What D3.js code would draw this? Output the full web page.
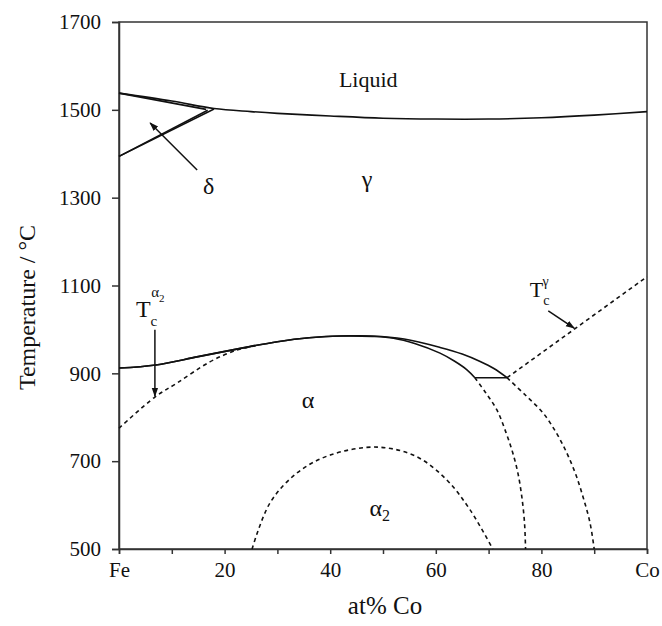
<!DOCTYPE html>
<html>
<head>
<meta charset="utf-8">
<script src="https://cdn.jsdelivr.net/npm/d3@7"></script>
<style>
  body { margin: 0; background: #fff; }
  svg text { font-family: "Liberation Serif", "Times New Roman", serif; fill: #111; }
</style>
</head>
<body>
<div id="chart"></div>
<script>
var
  margin = { top: 22, right: 15, bottom: 77, left: 119 },
  width = 662 - margin.left - margin.right,
  height = 626 - margin.top - margin.bottom;

// phase boundaries, [at% Co, temperature]
var liquidus = [[0,1538],[10,1520],[18,1503],[25,1496],[30,1492],[40,1486],[50,1481],[60,1479],[70,1479],[80,1482],[90,1488],[100,1496]];
var deltaSolidus = [[0,1538],[16.5,1501]];
var deltaBoundary = [[0,1394],[16.8,1499]];
var gammaDelta = [[0,1394],[18,1502]];
var gammaAlpha = [[0,912],[7,919],[15,938],[23.5,958],[30,972],[36,981],[42,985],[48,985],[54,978],[60.8,959],[65,944],[68.4,927],[71,911],[73.5,890]];
var alphaGamma = [[0,912],[7,919],[15,938],[23.5,958],[30,972],[36,981],[42,985],[48,984],[52,980],[56,968],[60.8,946],[63.5,928],[65.9,908],[67.4,890]];
var eutectoid = [[67.4,890],[73.5,890]];
var curieAlpha2 = [[0,775],[6.8,846],[11,878],[17.2,926],[22.3,953],[26,963]];
var curieGamma = [[73.5,890],[100,1120]];
var solvusLeft = [[67.4,890],[69.5,855],[71.6,816],[73.3,765],[74.6,718],[75.6,670],[76.3,618],[76.8,560],[77,500]];
var solvusRight = [[73.5,890],[77,850],[80.3,810],[82.8,765],[84.8,719],[86.5,670],[87.9,618],[89.2,560],[90,500]];
var orderDome = [[25.2,500],[28.6,605],[33.7,673],[40,714],[49,732],[56.4,710],[62.1,657],[66.5,589],[70.8,500]];

var xTicks = [0,10,20,30,40,50,60,70,80,90,100];
var xTickLabels = {0: 'Fe', 20: '20', 40: '40', 60: '60', 80: '80', 100: 'Co'};
var yTicks = [500,700,900,1100,1300,1500,1700];

// arrows: [from, to]
var arrows = [
  [[14.8,1363],[5.9,1470]],
  [[6.8,999],[6.8,848]],
  [[81.3,1042],[86.2,1003]]
];

var svg = d3.select('#chart').append('svg')
  .attr('width', 662)
  .attr('height', 626);

var defs = svg.append('defs');
defs.append('marker')
  .attr('id', 'head')
  .attr('viewBox', '0 0 10 10')
  .attr('refX', 9).attr('refY', 5)
  .attr('markerWidth', 9).attr('markerHeight', 9)
  .attr('markerUnits', 'userSpaceOnUse')
  .attr('orient', 'auto')
  .append('path')
    .attr('d', 'M0,1.5L10,5L0,8.5Z')
    .attr('fill', '#111');

var g = svg.append('g').attr('transform', 'translate(' + margin.left + ',' + margin.top + ')');

var x = d3.scaleLinear().domain([0, 100]).range([0, width]),
    y = d3.scaleLinear().domain([500, 1700]).range([height, 0]);

// frame
g.append('rect')
  .attr('width', width).attr('height', height)
  .attr('fill', 'none').attr('stroke', '#333').attr('stroke-width', 1.5);

var xAxis = g.append('g').attr('transform', 'translate(0,' + height + ')')
  .call(d3.axisBottom(x).tickValues(xTicks).tickSize(5).tickPadding(8)
    .tickFormat(function(d) { return xTickLabels[d] || ''; }));
var yAxis = g.append('g')
  .call(d3.axisLeft(y).tickValues(yTicks).tickSize(7).tickPadding(11).tickFormat(d3.format('d')));

[xAxis, yAxis].forEach(function(a) {
  a.select('.domain').attr('stroke', '#333').attr('stroke-width', 1.5);
  a.selectAll('.tick line').attr('stroke', '#333').attr('stroke-width', 1.5);
  a.selectAll('.tick text').attr('font-family', '"Liberation Serif", serif').attr('font-size', 21).attr('fill', '#111');
});

svg.append('text')
  .attr('x', margin.left + width / 2 + 2).attr('y', 614)
  .attr('text-anchor', 'middle').attr('font-size', 25)
  .text('at% Co');

svg.append('text')
  .attr('transform', 'translate(35,' + (margin.top + height / 2 + 22) + ') rotate(-90)')
  .attr('text-anchor', 'middle').attr('font-size', 24)
  .text('Temperature / \u00B0C');

var line = d3.line()
  .x(function(d) { return x(d[0]); })
  .y(function(d) { return y(d[1]); })
  .curve(d3.curveCatmullRom);

var solid = [liquidus, deltaSolidus, deltaBoundary, gammaDelta, gammaAlpha, alphaGamma, eutectoid];
var dashed = [curieAlpha2, curieGamma, solvusLeft, solvusRight, orderDome];

g.selectAll('path.solid')
  .data(solid)
  .enter().append('path')
    .attr('class', 'solid')
    .attr('d', line)
    .attr('fill', 'none')
    .attr('stroke', '#111')
    .attr('stroke-width', 1.6);

g.selectAll('path.dashed')
  .data(dashed)
  .enter().append('path')
    .attr('class', 'dashed')
    .attr('d', line)
    .attr('fill', 'none')
    .attr('stroke', '#111')
    .attr('stroke-width', 1.6)
    .attr('stroke-dasharray', '4,3.5');

g.selectAll('line.arrow')
  .data(arrows)
  .enter().append('line')
    .attr('class', 'arrow')
    .attr('x1', function(d) { return x(d[0][0]); })
    .attr('y1', function(d) { return y(d[0][1]); })
    .attr('x2', function(d) { return x(d[1][0]); })
    .attr('y2', function(d) { return y(d[1][1]); })
    .attr('stroke', '#111')
    .attr('stroke-width', 1.5)
    .attr('marker-end', 'url(#head)');

// phase labels
var labels = g.append('g').attr('font-size', 24).attr('text-anchor', 'middle');
labels.append('text').attr('x', x(47.2)).attr('y', y(1552)).attr('font-size', 22).text('Liquid');
labels.append('text').attr('x', x(47)).attr('y', y(1324)).text('\u03B3');
labels.append('text').attr('x', x(17)).attr('y', y(1308)).text('\u03B4');
labels.append('text').attr('x', x(35.8)).attr('y', y(821)).text('\u03B1');
var a2 = labels.append('text').attr('x', x(49.4)).attr('y', y(575));
a2.append('tspan').text('\u03B1');
a2.append('tspan').attr('font-size', 16).attr('dy', 5).text('2');

var tc1 = g.append('text').attr('x', x(3.2)).attr('y', y(1028)).attr('font-size', 24);
tc1.append('tspan').text('T');
tc1.append('tspan').attr('font-size', 15).attr('dy', 9).text('c');
tc1.append('tspan').attr('font-size', 15).attr('dx', -6).attr('dy', -29).text('\u03B1');
tc1.append('tspan').attr('font-size', 11).attr('dy', 5).text('2');

var tc2 = g.append('text').attr('x', x(77.8)).attr('y', y(1074)).attr('font-size', 22);
tc2.append('tspan').text('T');
tc2.append('tspan').attr('font-size', 14).attr('dy', 8).text('c');
tc2.append('tspan').attr('font-size', 14).attr('dx', -7).attr('dy', -19).text('\u03B3');
</script>
</body>
</html>
